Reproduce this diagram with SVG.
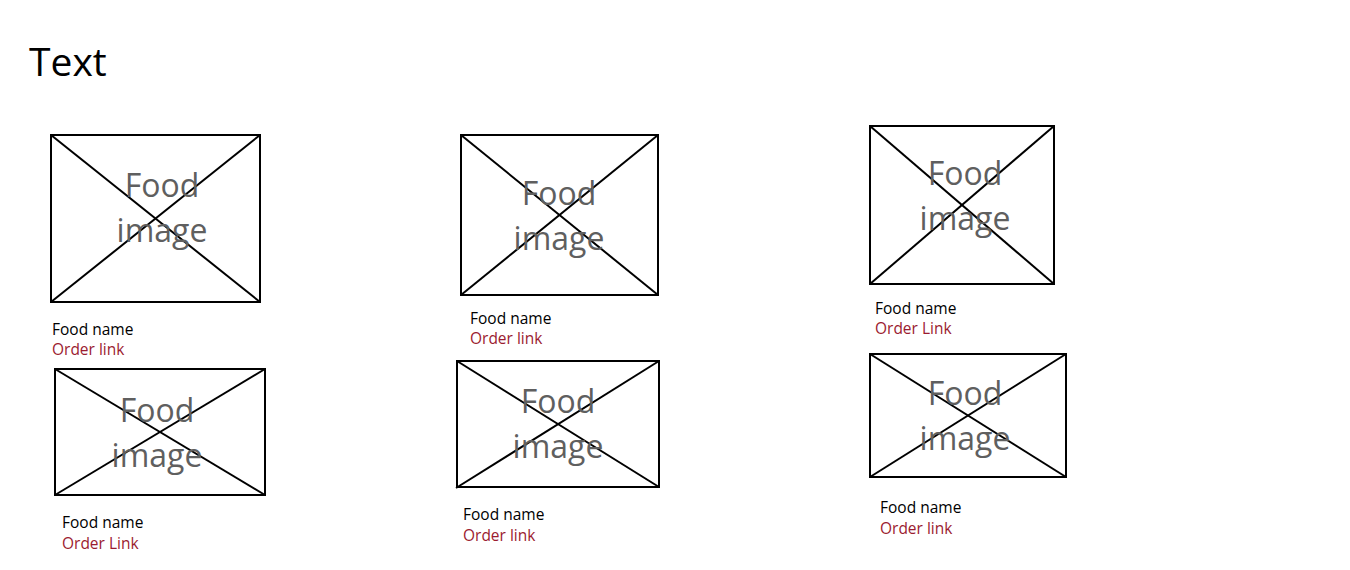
<svg xmlns="http://www.w3.org/2000/svg" width="1350" height="570" viewBox="0 0 1350 570">
<style>
.box{fill:#fff;stroke:#000;stroke-width:2}
.x{stroke:#000;stroke-width:2}
.ph{font-family:"Open Sans","Noto Sans",sans-serif;font-size:32px;fill:#5f5f5f;text-anchor:middle}
.nm{font-family:"Open Sans","Noto Sans",sans-serif;font-size:15.5px;fill:#000}
.lk{font-family:"Open Sans","Noto Sans",sans-serif;font-size:15.5px;fill:#9b1b30}
.ttl{font-family:"Open Sans","Noto Sans",sans-serif;font-size:39px;fill:#000}
</style>
<rect width="1350" height="570" fill="#fff"/>
<text class="ttl" x="29" y="76">Text</text>
<g id="card1">
<rect class="box" x="51" y="135" width="209" height="167"/>
<line class="x" x1="51" y1="135" x2="260" y2="302"/><line class="x" x1="260" y1="135" x2="51" y2="302"/>
<text class="ph" x="162" y="197">Food</text><text class="ph" x="162" y="242">image</text>
<text class="nm" x="52" y="335">Food name</text><text class="lk" x="52" y="355">Order link</text>
</g>
<g id="card2">
<rect class="box" x="461" y="135" width="197" height="160"/>
<line class="x" x1="461" y1="135" x2="658" y2="295"/><line class="x" x1="658" y1="135" x2="461" y2="295"/>
<text class="ph" x="559" y="205">Food</text><text class="ph" x="559" y="250">image</text>
<text class="nm" x="470" y="324">Food name</text><text class="lk" x="470" y="344">Order link</text>
</g>
<g id="card3">
<rect class="box" x="870" y="126" width="184" height="158"/>
<line class="x" x1="870" y1="126" x2="1054" y2="284"/><line class="x" x1="1054" y1="126" x2="870" y2="284"/>
<text class="ph" x="965" y="185">Food</text><text class="ph" x="965" y="230">image</text>
<text class="nm" x="875" y="314">Food name</text><text class="lk" x="875" y="334">Order Link</text>
</g>
<g id="card4">
<rect class="box" x="55" y="369" width="210" height="126"/>
<line class="x" x1="55" y1="369" x2="265" y2="495"/><line class="x" x1="265" y1="369" x2="55" y2="495"/>
<text class="ph" x="157" y="422">Food</text><text class="ph" x="157" y="467">image</text>
<text class="nm" x="62" y="528">Food name</text><text class="lk" x="62" y="549">Order Link</text>
</g>
<g id="card5">
<rect class="box" x="457" y="361" width="202" height="126"/>
<line class="x" x1="457" y1="361" x2="659" y2="487"/><line class="x" x1="659" y1="361" x2="456" y2="488"/>
<text class="ph" x="558" y="413">Food</text><text class="ph" x="558" y="458">image</text>
<text class="nm" x="463" y="520">Food name</text><text class="lk" x="463" y="541">Order link</text>
</g>
<g id="card6">
<rect class="box" x="870" y="354" width="196" height="123"/>
<line class="x" x1="870" y1="354" x2="1066" y2="477"/><line class="x" x1="1066" y1="354" x2="870" y2="477"/>
<text class="ph" x="965" y="405">Food</text><text class="ph" x="965" y="450">image</text>
<text class="nm" x="880" y="513">Food name</text><text class="lk" x="880" y="534">Order link</text>
</g>
</svg>
